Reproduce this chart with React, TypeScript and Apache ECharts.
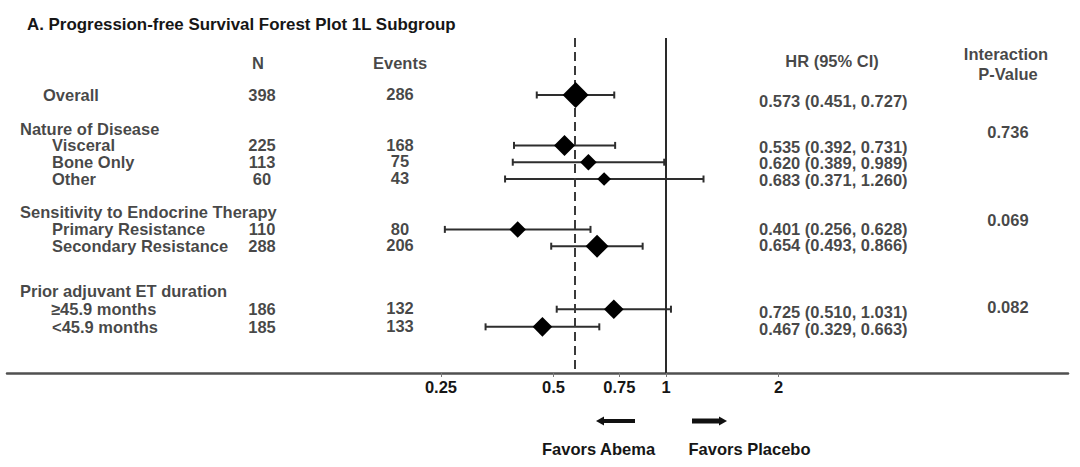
import React, { useEffect, useRef } from 'react';
import * as echarts from 'echarts';

// ---------------- data ----------------
const chartTitle = 'A. Progression-free Survival Forest Plot 1L Subgroup';
const headerN = 'N';
const headerEvents = 'Events';
const headerHR = 'HR (95% CI)';
const headerP1 = 'Interaction';
const headerP2 = 'P-Value';

const subgroups = [
  'Overall',
  'Visceral',
  'Bone Only',
  'Other',
  'Primary Resistance',
  'Secondary Resistance',
  '≥45.9 months',
  '<45.9 months',
];
const nValues = [398, 225, 113, 60, 110, 288, 186, 185];
const eventValues = [286, 168, 75, 43, 80, 206, 132, 133];
const hrValues = [0.573, 0.535, 0.62, 0.683, 0.401, 0.654, 0.725, 0.467];
const ciLow = [0.451, 0.392, 0.389, 0.371, 0.256, 0.493, 0.51, 0.329];
const ciHigh = [0.727, 0.731, 0.989, 1.26, 0.628, 0.866, 1.031, 0.663];

const groupTitles = ['Nature of Disease', 'Sensitivity to Endocrine Therapy', 'Prior adjuvant ET duration'];
const interactionP = ['0.736', '0.069', '0.082'];

const xTicks = [0.25, 0.5, 0.75, 1, 2];
const favorsLabels = ['Favors Abema', 'Favors Placebo'];

// ---------------- layout ----------------
const W = 1080;
const H = 467;
const GRID_LEFT = 7;
const GRID_RIGHT = 12;
const GRID_TOP = 38;
const GRID_BOTTOM = 94;
// log axis extent chosen so that 1 sits at x=666 with ~112.5px per doubling
const X_MIN = Math.pow(2, (GRID_LEFT - 666) / 112.5);
const X_MAX = Math.pow(2, (W - GRID_RIGHT - 666) / 112.5);
// row slots (row units, top to bottom)
const SLOT_MIN = -3.393;
const SLOT_MAX = 16.548;
const subgroupSlot = [0, 3, 4, 5, 8, 9, 12.75, 13.8];
const hrTextSlot = [0.36, 3.1, 4.05, 5.06, 7.95, 8.93, 12.89, 13.9];
const groupSlot = [2.0, 6.96, 11.67];
const pSlot = [2.2, 7.44, 12.59];
const labelX = [43, 52, 52, 52, 52, 52, 51, 52];
const GROUP_X = 20;
const N_X = 262;
const EV_X = 400;
const HR_X = 759;
const P_X = 1008;

const FONT = "'Liberation Sans', Arial, Helvetica, sans-serif";
const TXT = '#161616';
const FS = 16.5;

type TextItem = { x: number; slot: number; text: string; align: 'left' | 'center' };

function buildTexts(): TextItem[] {
  const t: TextItem[] = [];
  t.push({ x: 258, slot: -1.9, text: headerN, align: 'center' });
  t.push({ x: EV_X, slot: -1.9, text: headerEvents, align: 'center' });
  t.push({ x: 832, slot: -2.0, text: headerHR, align: 'center' });
  t.push({ x: 1006, slot: -2.44, text: headerP1, align: 'center' });
  t.push({ x: P_X, slot: -1.25, text: headerP2, align: 'center' });
  subgroups.forEach((s, i) => {
    t.push({ x: labelX[i], slot: subgroupSlot[i], text: s, align: 'left' });
    t.push({ x: N_X, slot: subgroupSlot[i], text: String(nValues[i]), align: 'center' });
    t.push({ x: EV_X, slot: subgroupSlot[i] - 0.05, text: String(eventValues[i]), align: 'center' });
    t.push({
      x: HR_X,
      slot: hrTextSlot[i],
      text: `${hrValues[i].toFixed(3)} (${ciLow[i].toFixed(3)}, ${ciHigh[i].toFixed(3)})`,
      align: 'left',
    });
  });
  groupTitles.forEach((g, i) => {
    t.push({ x: GROUP_X, slot: groupSlot[i], text: g, align: 'left' });
    t.push({ x: P_X, slot: pSlot[i], text: interactionP[i], align: 'center' });
  });
  return t;
}

export default function App() {
  const ref = useRef<HTMLDivElement>(null);

  useEffect(() => {
    document.body.style.margin = '0';
    if (!ref.current) return;
    const chart = echarts.init(ref.current, undefined, { renderer: 'svg' });
    const texts = buildTexts();

    const option: any = {
      animation: false,
      backgroundColor: '#ffffff',
      grid: { left: GRID_LEFT, right: GRID_RIGHT, top: GRID_TOP, bottom: GRID_BOTTOM, containLabel: false },
      xAxis: [
        {
          type: 'log',
          logBase: 2,
          min: X_MIN,
          max: X_MAX,
          position: 'bottom',
          axisLine: { show: true, onZero: false, lineStyle: { color: '#505050', width: 2.5 } },
          axisTick: { show: true, customValues: xTicks, length: 4, lineStyle: { color: '#777', width: 1 } },
          axisLabel: {
            show: true,
            customValues: xTicks,
            margin: 5,
            color: TXT,
            fontFamily: FONT,
            fontWeight: 'bold',
            fontSize: FS,
            formatter: (v: number) => String(Math.round(v * 100) / 100),
          },
          splitLine: { show: false },
          minorTick: { show: false },
        },
        {
          type: 'value',
          min: GRID_LEFT,
          max: W - GRID_RIGHT,
          show: false,
        },
      ],
      yAxis: [
        {
          type: 'value',
          inverse: true,
          min: SLOT_MIN,
          max: SLOT_MAX,
          show: false,
        },
      ],
      series: [
        {
          type: 'line',
          xAxisIndex: 0,
          yAxisIndex: 0,
          data: [],
          silent: true,
          z: 1,
          markLine: {
            silent: true,
            symbol: ['none', 'none'],
            label: { show: false },
            data: [
              { xAxis: 1, lineStyle: { type: 'solid', color: '#2a2a2a', width: 2 } },
              { xAxis: hrValues[0], lineStyle: { type: [9, 5], color: '#3a3a3a', width: 2 } },
            ],
          },
        },
        {
          type: 'custom',
          xAxisIndex: 0,
          yAxisIndex: 0,
          silent: true,
          z: 3,
          data: subgroups.map((_, i) => [ciLow[i], ciHigh[i], subgroupSlot[i]]),
          encode: { x: [0, 1], y: 2 },
          renderItem: (_params: any, api: any) => {
            const p1 = api.coord([api.value(0), api.value(2)]);
            const p2 = api.coord([api.value(1), api.value(2)]);
            const cap = 3.5;
            const style = { stroke: '#2e2e2e', lineWidth: 2 };
            return {
              type: 'group',
              children: [
                { type: 'line', shape: { x1: p1[0], y1: p1[1], x2: p2[0], y2: p2[1] }, style },
                { type: 'line', shape: { x1: p1[0], y1: p1[1] - cap, x2: p1[0], y2: p1[1] + cap }, style },
                { type: 'line', shape: { x1: p2[0], y1: p2[1] - cap, x2: p2[0], y2: p2[1] + cap }, style },
              ],
            };
          },
        },
        {
          type: 'scatter',
          xAxisIndex: 0,
          yAxisIndex: 0,
          silent: true,
          z: 5,
          symbol: 'diamond',
          itemStyle: { color: '#000000', opacity: 1 },
          data: hrValues.map((h, i) => ({
            value: [h, subgroupSlot[i]],
            symbolSize: 6 + Math.sqrt(nValues[i]),
          })),
        },
        {
          type: 'scatter',
          xAxisIndex: 1,
          yAxisIndex: 0,
          silent: true,
          clip: false,
          z: 6,
          symbolSize: 1,
          itemStyle: { color: 'rgba(0,0,0,0)' },
          data: texts.map((t) => ({
            value: [t.x, t.slot],
            text: t.text,
            label: { align: t.align },
          })),
          label: {
            show: true,
            position: 'inside',
            formatter: (p: any) => p.data.text,
            color: TXT,
            fontFamily: FONT,
            fontWeight: 'bold',
            fontSize: FS,
            verticalAlign: 'middle',
          },
        },
      ],
      graphic: [
        {
          type: 'text',
          x: 27,
          y: 24.5,
          style: {
            text: chartTitle,
            fill: TXT,
            fontFamily: FONT,
            fontWeight: 'bold',
            fontSize: 16.9,
            align: 'left',
            verticalAlign: 'middle',
          },
        },
        { type: 'rect', shape: { x: 602, y: 419, width: 33, height: 4 }, style: { fill: '#111' } },
        { type: 'polygon', shape: { points: [[596, 421], [604, 416.5], [604, 425.5]] }, style: { fill: '#111' } },
        { type: 'rect', shape: { x: 692, y: 418.5, width: 28, height: 5 }, style: { fill: '#111' } },
        { type: 'polygon', shape: { points: [[727, 421], [719, 416.5], [719, 425.5]] }, style: { fill: '#111' } },
        {
          type: 'text',
          x: 598.5,
          y: 449,
          style: {
            text: favorsLabels[0],
            fill: TXT,
            fontFamily: FONT,
            fontWeight: 'bold',
            fontSize: FS,
            align: 'center',
            verticalAlign: 'middle',
          },
        },
        {
          type: 'text',
          x: 749.5,
          y: 449,
          style: {
            text: favorsLabels[1],
            fill: TXT,
            fontFamily: FONT,
            fontWeight: 'bold',
            fontSize: FS,
            align: 'center',
            verticalAlign: 'middle',
          },
        },
      ],
    };

    chart.setOption(option);
    return () => {
      chart.dispose();
    };
  }, []);

  return <div ref={ref} style={{ width: W, height: H }} />;
}
